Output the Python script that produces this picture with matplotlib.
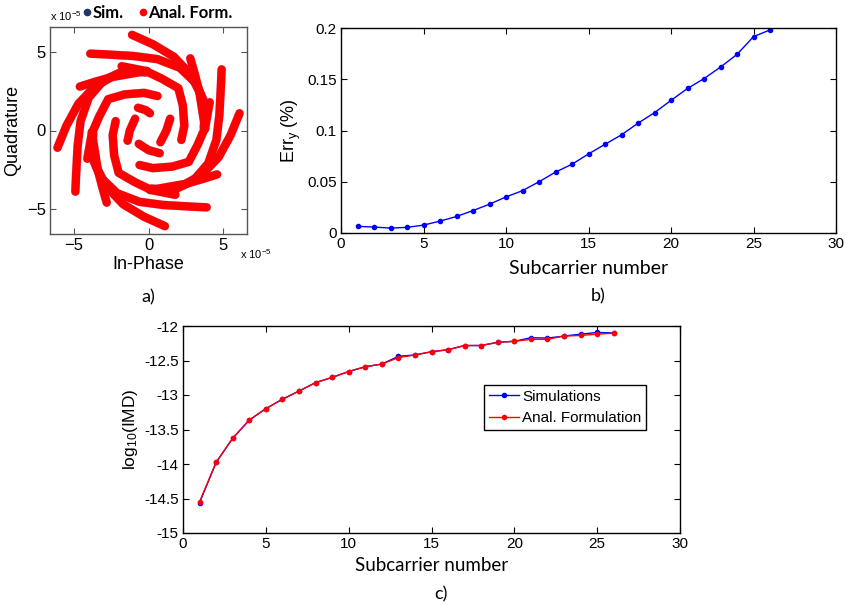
import numpy as np
import matplotlib
matplotlib.use("Agg")
import matplotlib.pyplot as plt
from matplotlib.lines import Line2D

plt.rcParams["font.family"] = ["Liberation Sans", "DejaVu Sans"]
plt.rcParams["mathtext.fontset"] = "custom"
plt.rcParams["mathtext.rm"] = "Liberation Sans"
plt.rcParams["mathtext.it"] = "Liberation Sans"

# constellation arms (in units of 1e-5), each a polyline of (I, Q) points
arms_outer = [
    [(-1.1, 6.1), (0.3, 5.5), (1.7, 4.7), (2.8, 3.6), (3.5, 2.3), (3.8, 1.1), (3.7, 0.2)],
    [(6.1, 1.1), (5.5, -0.3), (4.7, -1.7), (3.6, -2.8), (2.3, -3.5), (1.1, -3.8), (0.2, -3.7)],
    [(1.1, -6.1), (-0.3, -5.5), (-1.7, -4.7), (-2.8, -3.6), (-3.5, -2.3), (-3.8, -1.1), (-3.7, -0.2)],
    [(-6.1, -1.1), (-5.5, 0.3), (-4.7, 1.7), (-3.6, 2.8), (-2.3, 3.5), (-1.1, 3.8), (-0.2, 3.7)],
]
arms_mid1 = [
    [(-3.9, 4.9), (-2.8, 4.85), (-1.0, 4.75), (0.6, 4.55), (2.1, 4.0), (3.2, 3.0), (3.7, 1.9)],
    [(4.9, 3.9), (4.85, 2.8), (4.75, 1.0), (4.55, -0.6), (4.0, -2.1), (3.0, -3.2), (1.9, -3.7)],
    [(3.9, -4.9), (2.8, -4.85), (1.0, -4.75), (-0.6, -4.55), (-2.1, -4.0), (-3.2, -3.0), (-3.7, -1.9)],
    [(-4.9, -3.9), (-4.85, -2.8), (-4.75, -1.0), (-4.55, 0.6), (-4.0, 2.1), (-3.0, 3.2), (-1.9, 3.7)],
]
arms_mid2 = [
    [(2.8, 4.6), (3.1, 3.6), (3.4, 2.5), (3.6, 1.3), (3.8, 0.1)],
    [(4.6, -2.8), (3.6, -3.1), (2.5, -3.4), (1.3, -3.6), (0.1, -3.8)],
    [(-2.8, -4.6), (-3.1, -3.6), (-3.4, -2.5), (-3.6, -1.3), (-3.8, -0.1)],
    [(-4.6, 2.8), (-3.6, 3.1), (-2.5, 3.4), (-1.3, 3.6), (-0.1, 3.8)],
]
arms_cross = [
    [(-1.8, 4.1), (-0.2, 3.8), (0.9, 3.3), (2.0, 2.7), (2.3, 1.6), (2.4, 0.3), (2.2, -0.6)],
    [(4.1, 1.8), (3.8, 0.2), (3.3, -0.9), (2.7, -2.0), (1.6, -2.3), (0.3, -2.4), (-0.6, -2.2)],
    [(1.8, -4.1), (0.2, -3.8), (-0.9, -3.3), (-2.0, -2.7), (-2.3, -1.6), (-2.4, -0.3), (-2.2, 0.6)],
    [(-4.1, -1.8), (-3.8, -0.2), (-3.3, 0.9), (-2.7, 2.0), (-1.6, 2.3), (-0.3, 2.4), (0.6, 2.2)],
]
arms_inner = [
    [(-0.7, 1.45), (-0.2, 1.3), (0.1, 1.1)],
    [(1.45, 0.75), (1.2, 0.0), (0.8, -0.75)],
    [(-0.65, -0.85), (0.0, -1.25), (0.75, -1.45)],
    [(-0.9, 0.75), (-1.25, 0.0), (-1.4, -0.65)],
]

# Err_y vs subcarrier
sub_b = np.arange(1, 27)
err_y = [0.0065, 0.0058, 0.0048, 0.0055, 0.0077, 0.0116, 0.0161, 0.0219, 0.0281,
         0.0352, 0.0413, 0.0500, 0.0594, 0.0671, 0.0771, 0.0865, 0.0958, 0.1071,
         0.1174, 0.1294, 0.1410, 0.1506, 0.1619, 0.1742, 0.1916, 0.1981]

# log10(IMD) vs subcarrier
sub_c = np.arange(1, 27)
imd_sim = [-14.56, -13.976, -13.627, -13.363, -13.198, -13.061, -12.943, -12.821,
           -12.745, -12.660, -12.590, -12.552, -12.439, -12.420, -12.373, -12.344,
           -12.283, -12.283, -12.236, -12.222, -12.170, -12.175, -12.146, -12.118,
           -12.094, -12.100]
imd_anal = [-14.547, -13.976, -13.627, -13.363, -13.198, -13.061, -12.943, -12.821,
            -12.745, -12.660, -12.590, -12.552, -12.458, -12.420, -12.373, -12.344,
            -12.283, -12.283, -12.236, -12.222, -12.193, -12.193, -12.146, -12.137,
            -12.118, -12.104]

W, H = 846, 605
fig = plt.figure(figsize=(W / 100, H / 100), dpi=100)


def box(left, top, right, bottom):
    return [left / W, 1 - bottom / H, (right - left) / W, (bottom - top) / H]


def matlab_axes(ax, size):
    ax.tick_params(direction="in", top=True, right=True, length=4, width=0.8,
                   labelsize=size, pad=3)
    for s in ax.spines.values():
        s.set_linewidth(1.0)


# a) constellation
ax_a = fig.add_axes(box(50, 27, 247, 234))
for group in [arms_outer, arms_mid1, arms_mid2, arms_cross, arms_inner]:
    for arm in group:
        xs = [p[0] for p in arm]
        ys = [p[1] for p in arm]
        ax_a.plot(xs, ys, color="#4050e0", lw=6.3, solid_capstyle="round",
                  solid_joinstyle="round", alpha=0.35)
        ax_a.plot(xs, ys, color="#ff0000", lw=6.0, solid_capstyle="round",
                  solid_joinstyle="round")
ax_a.set_xlim(-6.6, 6.6)
ax_a.set_ylim(-6.6, 6.6)
ax_a.set_xticks([-5, 0, 5])
ax_a.set_yticks([-5, 0, 5])
matlab_axes(ax_a, 12)
ax_a.tick_params(color="#555555")
for s in ax_a.spines.values():
    s.set_color("#555555")
ax_a.set_xlabel("In-Phase", fontsize=13, labelpad=2)
ax_a.set_ylabel("Quadrature", fontsize=13, labelpad=4)
fig.text(50 / W, 1 - 16 / H, r"x 10$^{-5}$", fontsize=8, va="center", ha="left")
fig.text(240 / W, 1 - 254 / H, r"x 10$^{-5}$", fontsize=8, va="center", ha="left")
handles = [Line2D([], [], ls="none", marker="o", ms=4.5, color="#1f3864"),
           Line2D([], [], ls="none", marker="o", ms=4.5, color="#ff0000")]
fig.legend(handles, ["Sim.", "Anal. Form."], loc="center left",
           bbox_to_anchor=(84 / W, 1 - 13 / H), ncol=2, frameon=False,
           handlelength=0.4, handletextpad=0.1, columnspacing=1.0,
           borderpad=0, borderaxespad=0,
           prop={"family": "Lato", "weight": "bold", "size": 12})
fig.text(148 / W, 1 - 297 / H, "a)", fontsize=13, family="Lato", ha="center", va="center")

# b) Err_y
ax_b = fig.add_axes(box(341, 28, 836, 233))
ax_b.plot(sub_b, err_y, color="#0000ff", lw=1.0, marker=".", ms=6)
ax_b.set_xlim(0, 30)
ax_b.set_ylim(0, 0.2)
ax_b.set_xticks([0, 5, 10, 15, 20, 25, 30])
ax_b.set_yticks([0, 0.05, 0.1, 0.15, 0.2])
ax_b.set_yticklabels(["0", "0.05", "0.1", "0.15", "0.2"])
matlab_axes(ax_b, 11)
ax_b.set_ylabel(r"Err$_{\rm y}$ (%)", fontsize=13, labelpad=3)
ax_b.set_xlabel("Subcarrier number", fontsize=14, family="Lato", labelpad=6)
fig.text(598 / W, 1 - 296 / H, "b)", fontsize=13, family="Lato", ha="center", va="center")

# c) log10(IMD)
ax_c = fig.add_axes(box(183, 326, 680, 533))
ax_c.plot(sub_c, imd_sim, color="#0000ff", lw=1.0, marker=".", ms=6, label="Simulations")
ax_c.plot(sub_c, imd_anal, color="#ff0000", lw=1.0, marker=".", ms=6, label="Anal. Formulation")
ax_c.set_xlim(0, 30)
ax_c.set_ylim(-15, -12)
ax_c.set_xticks([0, 5, 10, 15, 20, 25, 30])
ax_c.set_yticks([-15, -14.5, -14, -13.5, -13, -12.5, -12])
ax_c.set_yticklabels(["-15", "-14.5", "-14", "-13.5", "-13", "-12.5", "-12"])
matlab_axes(ax_c, 11)
ax_c.set_ylabel(r"log$_{10}$(IMD)", fontsize=12.5, labelpad=3)
ax_c.set_xlabel("Subcarrier number", fontsize=13.5, family="Lato", labelpad=4)
leg = ax_c.legend(loc="upper left", bbox_to_anchor=((484 - 183) / 497, (533 - 385) / 207),
                  fontsize=11, handlelength=2.0, handletextpad=0.2, borderpad=0.3,
                  borderaxespad=0, fancybox=False, edgecolor="black", framealpha=1)
leg.get_frame().set_linewidth(1.0)
fig.text(441 / W, 1 - 594 / H, "c)", fontsize=13, family="Lato", ha="center", va="center")

fig.savefig("out.png", dpi=100)
